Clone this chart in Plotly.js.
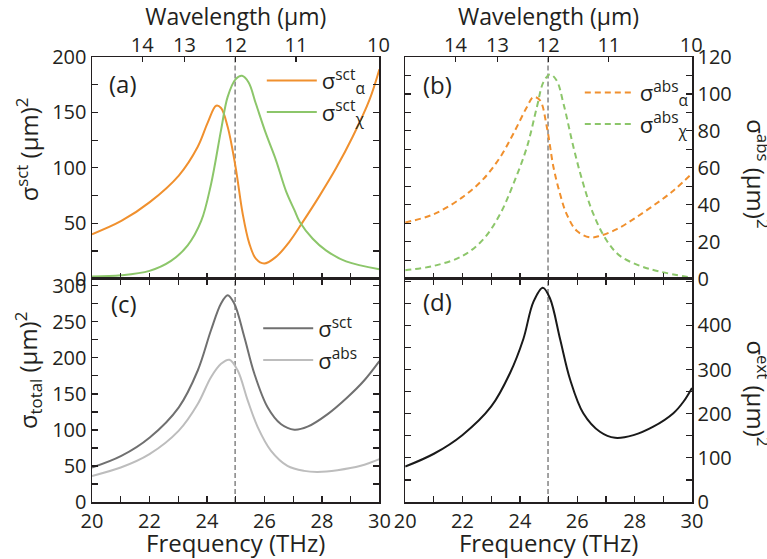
<!DOCTYPE html>
<html>
<head>
<meta charset="utf-8">
<script src="https://cdn.plot.ly/plotly-3.0.1.min.js"></script>
<style>html,body{margin:0;padding:0;background:#fff;}#chart{width:767px;height:559px;}</style>
</head>
<body>
<div id="chart"></div>
<script>
// ---------- data ----------
const freqRange = [20, 30];                 // THz
const resonanceTHz = 24.98;                 // dashed line (12 µm)
const wavelengthTickLabels = ['14', '13', '12', '11', '10'];
const wavelengthTickPos = [21.75, 23.22, 24.99, 27.1, 29.97];
const extTickVals = [0, 100, 200, 300, 400];

// (a) scattering
const sctAlphaF = [20, 21.02, 22.01, 23.02, 23.68, 24.03, 24.32, 24.49, 24.72, 25.0, 25.24, 25.47, 25.70, 25.99, 26.4, 26.86, 27.33, 27.9, 28.49, 29.07, 29.65, 30];
const sctAlpha  = [40, 52, 69, 93, 119, 141, 156, 154, 137, 100, 59, 32, 18, 13.6, 19.6, 33, 51, 74, 99.5, 128, 161, 189];
const sctChiF = [20, 21.02, 22.0, 22.75, 23.33, 23.8, 24.14, 24.49, 24.72, 25.0, 25.22, 25.45, 25.70, 26.05, 26.4, 26.75, 27.04, 27.23, 27.68, 28.14, 28.84, 30];
const sctChi  = [2, 3, 7, 16, 30, 52, 85, 134, 164, 180, 183, 177, 158, 131, 107, 79, 62, 51, 36, 25.5, 15.5, 8.5];

// (b) absorption
const absAlphaF = [20, 21.0, 21.99, 22.73, 23.31, 23.77, 24.24, 24.47, 24.7, 24.94, 25.17, 25.4, 25.63, 25.98, 26.45, 26.8, 27.38, 27.96, 28.65, 29.35, 30];
const absAlpha  = [30.4, 34.9, 44, 54, 65.7, 78.4, 92.8, 98.3, 96.5, 82, 60.3, 45.8, 34.9, 25.9, 22.3, 23.2, 26.8, 32.2, 39.5, 47.6, 57];
const absChiF = [20, 21, 22, 22.73, 23.31, 23.77, 24.24, 24.59, 24.82, 25.05, 25.28, 25.52, 25.87, 26.21, 26.56, 27.03, 27.49, 28.19, 28.88, 30];
const absChi  = [4.5, 6.9, 12.3, 21.4, 35, 51.2, 71, 92.8, 106.4, 110.6, 107.3, 94.7, 71, 51.2, 35, 20.5, 12.3, 6.9, 3.8, 0.5];

// (c) totals
const totSctF = [20, 21.02, 22.01, 23.02, 23.68, 24.14, 24.49, 24.72, 24.95, 25.3, 25.65, 26.11, 26.57, 27.04, 27.5, 28.2, 28.89, 29.47, 30];
const totSct  = [47.8, 64, 89.6, 131.4, 182.5, 238.3, 275.4, 287, 275.4, 229, 177.9, 131.4, 108.2, 100.3, 104.5, 122, 145.4, 168.6, 195.5];
const totAbsF = [20, 21, 22, 23.02, 23.68, 24.14, 24.49, 24.78, 25.07, 25.42, 25.77, 26.23, 26.8, 27.38, 27.85, 28.54, 29.35, 30];
const totAbs  = [36.2, 47.8, 66.4, 99, 136, 173.2, 191.8, 197.4, 182.5, 140.7, 103.6, 71, 50.2, 43.2, 41.8, 44.1, 50.2, 59.5];

// (d) extinction
const extF = [20, 21, 21.99, 23.0, 23.66, 24.12, 24.47, 24.8, 25.05, 25.4, 25.75, 26.21, 26.79, 27.32, 27.96, 28.65, 29.35, 29.7, 30];
const ext  = [80.3, 109.3, 151.4, 216.4, 292.8, 369.3, 453.4, 485.5, 461, 369.3, 277.5, 201, 159, 145.3, 151.4, 170.5, 201, 227, 258.4];

// ---------- styling ----------
const FONT = 'Open Sans, Liberation Sans, sans-serif';
const INK = '#231f20';
const ORANGE = '#f0902e';
const GREEN = '#8cc66a';

function line(x, y, color, opts) {
  return Object.assign({
    type: 'scatter', mode: 'lines', x: x, y: y,
    line: {color: color, width: 2, shape: 'spline', smoothing: 1},
    hoverinfo: 'skip'
  }, opts);
}

const traces = [
  line(sctAlphaF, sctAlpha, ORANGE, {name: 'σ<sup>sct</sup><sub>α</sub>', xaxis: 'x', yaxis: 'y', legend: 'legend'}),
  line(sctChiF, sctChi, GREEN, {name: 'σ<sup>sct</sup><sub>χ</sub>', xaxis: 'x', yaxis: 'y', legend: 'legend'}),
  line(absAlphaF, absAlpha, ORANGE, {name: 'σ<sup>abs</sup><sub>α</sub>', xaxis: 'x2', yaxis: 'y2', legend: 'legend2'}),
  line(absChiF, absChi, GREEN, {name: 'σ<sup>abs</sup><sub>χ</sub>', xaxis: 'x2', yaxis: 'y2', legend: 'legend2'}),
  line(totSctF, totSct, '#707070', {name: 'σ<sup>sct</sup>', xaxis: 'x3', yaxis: 'y3', legend: 'legend3'}),
  line(totAbsF, totAbs, '#bdbdbd', {name: 'σ<sup>abs</sup>', xaxis: 'x3', yaxis: 'y3', legend: 'legend3'}),
  line(extF, ext, '#1a1a1a', {name: 'σ<sup>ext</sup>', xaxis: 'x4', yaxis: 'y4', showlegend: false}),
  // carriers for the top wavelength axes
  {type: 'scatter', mode: 'lines', x: [], y: [], xaxis: 'x5', yaxis: 'y', showlegend: false, hoverinfo: 'skip'},
  {type: 'scatter', mode: 'lines', x: [], y: [], xaxis: 'x6', yaxis: 'y2', showlegend: false, hoverinfo: 'skip'}
];
traces[2].line.dash = '6px,4px';
traces[3].line.dash = '6px,4px';

const base = {
  showline: true, linecolor: INK, linewidth: 1.5,
  ticks: 'inside', ticklen: 6, tickwidth: 1.2, tickcolor: INK,
  showgrid: false, zeroline: false, fixedrange: true,
  tickfont: {family: FONT, size: 20, color: INK}
};
const minor = d => ({dtick: d, ticks: 'inside', ticklen: 6, tickwidth: 1.2, tickcolor: INK, showgrid: false});

const TOP = [0.502, 1], BOT = [0, 0.502], LEFT = [0, 0.479], RIGHT = [0.522, 1];

const topAxis = (over, anch) => Object.assign({}, base, {
  overlaying: over, side: 'top', anchor: anch, range: freqRange,
  tickmode: 'array', tickvals: wavelengthTickPos, ticktext: wavelengthTickLabels,
  ticklen: 5, showline: false, ticklabelstandoff: 0,
  title: {text: 'Wavelength (μm)', font: {family: FONT, size: 23, color: INK}, standoff: 4}
});

const legendBase = {
  xanchor: 'left', yanchor: 'top', bgcolor: 'rgba(0,0,0,0)', borderwidth: 0,
  font: {family: FONT, size: 22, color: INK}, itemwidth: 50, tracegroupgap: 0
};

const dashLine = (xr, yr) => ({
  type: 'line', xref: xr, yref: yr + ' domain', x0: resonanceTHz, x1: resonanceTHz, y0: 0, y1: 1,
  layer: 'below', line: {color: '#8c8c8c', width: 1.6, dash: '5px,3px'}
});

const panelLabel = (t, xr, yr, x, y) => ({
  text: t, xref: xr + ' domain', yref: yr + ' domain', x: x, y: y,
  xanchor: 'center', yanchor: 'middle', showarrow: false,
  font: {family: FONT, size: 24, color: INK}
});

const yTitle = (t, x, y, ang) => ({
  text: t, xref: 'paper', yref: 'paper', x: x, y: y, textangle: ang,
  xanchor: 'center', yanchor: 'middle', showarrow: false,
  font: {family: FONT, size: 24, color: INK}
});

const xTitleFont = {family: FONT, size: 24, color: INK};

const layout = {
  width: 767, height: 559,
  margin: {l: 92, r: 75, t: 57, b: 57},
  paper_bgcolor: '#fff', plot_bgcolor: 'rgba(0,0,0,0)',
  font: {family: FONT, color: INK},
  xaxis: Object.assign({}, base, {domain: LEFT, anchor: 'y', range: freqRange, dtick: 1, showticklabels: false, mirror: true}),
  yaxis: Object.assign({}, base, {domain: TOP, anchor: 'x', range: [0, 200], dtick: 50, minor: minor(25), mirror: 'ticks'}),
  xaxis2: Object.assign({}, base, {domain: RIGHT, anchor: 'y2', range: freqRange, dtick: 1, showticklabels: false, mirror: true}),
  yaxis2: Object.assign({}, base, {domain: TOP, anchor: 'x2', side: 'right', range: [0, 120], dtick: 20, minor: minor(10), mirror: 'ticks'}),
  xaxis3: Object.assign({}, base, {domain: LEFT, anchor: 'y3', range: freqRange, dtick: 2, minor: minor(1), mirror: 'ticks',
    title: {text: 'Frequency (THz)', font: xTitleFont, standoff: 0}}),
  yaxis3: Object.assign({}, base, {domain: BOT, anchor: 'x3', range: [0, 310], dtick: 50, minor: minor(25), mirror: 'ticks'}),
  xaxis4: Object.assign({}, base, {domain: RIGHT, anchor: 'y4', range: freqRange, dtick: 2, minor: minor(1), mirror: 'ticks',
    title: {text: 'Frequency (THz)', font: xTitleFont, standoff: 0}}),
  yaxis4: Object.assign({}, base, {domain: BOT, anchor: 'x4', side: 'right', range: [0, 506], tickmode: 'array', tickvals: extTickVals, minor: minor(50), mirror: 'ticks'}),
  xaxis5: topAxis('x', 'y'),
  xaxis6: topAxis('x2', 'y2'),
  legend: Object.assign({}, legendBase, {x: 0.283, y: 0.994}),
  legend2: Object.assign({}, legendBase, {x: 0.813, y: 0.967}),
  legend3: Object.assign({}, legendBase, {x: 0.277, y: 0.437}),
  shapes: [dashLine('x', 'y'), dashLine('x2', 'y2'), dashLine('x3', 'y3'), dashLine('x4', 'y4')],
  annotations: [
    panelLabel('(a)', 'x', 'y', 0.108, 0.881),
    panelLabel('(b)', 'x2', 'y2', 0.113, 0.876),
    panelLabel('(c)', 'x3', 'y3', 0.11, 0.888),
    panelLabel('(d)', 'x4', 'y4', 0.113, 0.897),
    yTitle('σ<sup>sct</sup> (μm)<sup>2</sup>', -0.107, 0.792, -90),
    yTitle('σ<sub>total</sub> (μm)<sup>2</sup>', -0.107, 0.296, -90),
    yTitle('σ<sup>abs</sup> (μm)<sup>2</sup>', 1.11, 0.739, 90),
    yTitle('σ<sup>ext</sup> (μm)<sup>2</sup>', 1.11, 0.244, 90)
  ],
  showlegend: true
};

Plotly.newPlot('chart', traces, layout, {staticPlot: true, displayModeBar: false});
</script>
</body>
</html>
